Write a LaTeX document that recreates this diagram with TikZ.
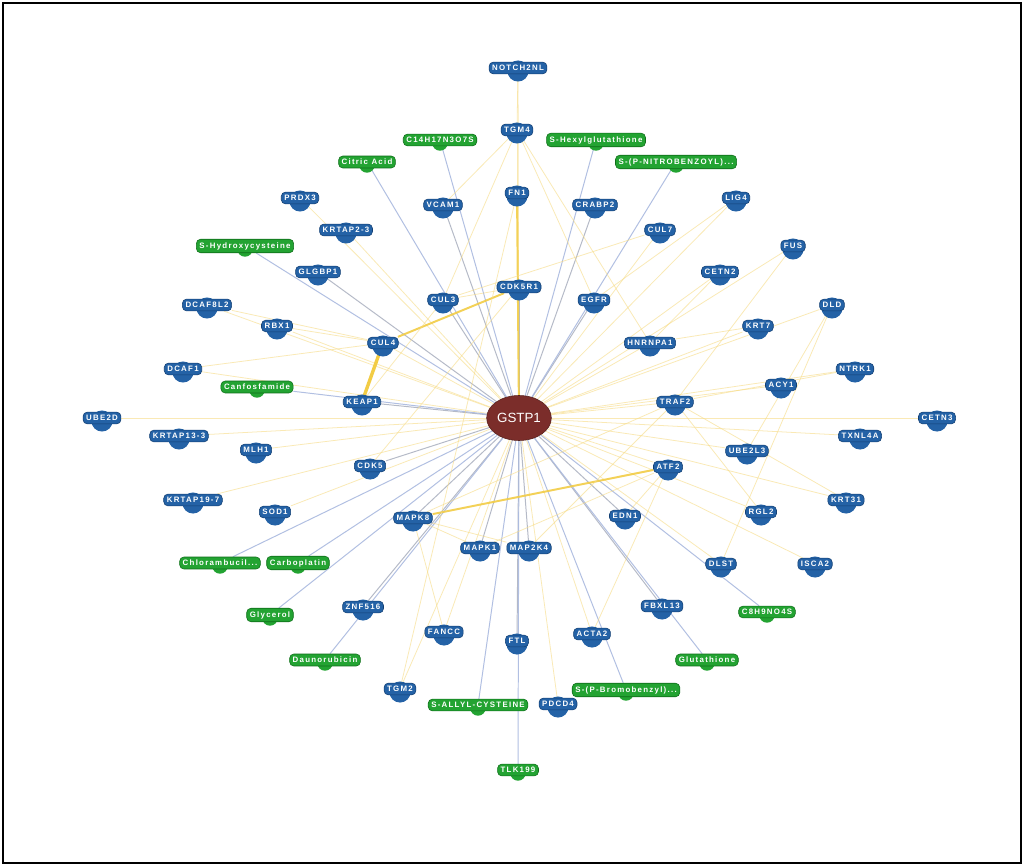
\documentclass[tikz,border=0pt]{standalone}
\usepackage{fontspec}
\setmainfont{Liberation Sans}
\newfontfamily\lblfont[LetterSpace=16]{Liberation Sans}
\usetikzlibrary{backgrounds,shapes.geometric}
\definecolor{gblue}{HTML}{2462A6}
\definecolor{gblueD}{HTML}{123F73}
\definecolor{ggreen}{HTML}{23A332}
\definecolor{ggreenD}{HTML}{0F6E19}
\definecolor{hubred}{HTML}{7B2D2A}
\definecolor{ey}{HTML}{F7DB84}
\definecolor{eyt}{HTML}{F2CC45}
\definecolor{eb}{HTML}{A9B9DF}
\definecolor{eg}{HTML}{AEB3C2}
\tikzset{
 gene/.style={rounded corners=3pt, fill=gblue, draw=gblueD, line width=0.4pt, text=white,
   font=\lblfont\bfseries\fontsize{5.6}{6.5}\selectfont, inner xsep=2.2pt, inner ysep=2.2pt},
 genebg/.style={circle, fill=gblue, minimum size=15pt, inner sep=0pt},
 drug/.style={gene, fill=ggreen, draw=ggreenD},
 drugbg/.style={circle, fill=ggreen, minimum size=11pt, inner sep=0pt},
 hub/.style={ellipse, fill=hubred, draw=hubred!70!black, minimum width=46pt, minimum height=32pt,
   text=white, font=\fontsize{9.5}{10}\selectfont, inner sep=0pt},
 ye/.style={draw=ey, line width=0.55pt, opacity=0.6},
 yt/.style={draw=eyt, line width=2.4pt},
 ym/.style={draw=eyt, line width=1.4pt, opacity=0.9},
 be/.style={draw=eb, line width=0.7pt, opacity=0.9},
 ge/.style={draw=eg, line width=0.7pt, opacity=0.9},
}
\newcommand{\gnode}[4]{\node[genebg] (#1-bg) at (#2,#3+3) {}; \node[gene] (#1) at (#2,#3) {#4};}
\newcommand{\dnode}[4]{\node[drugbg] (#1-bg) at (#2,#3+3) {}; \node[drug] (#1) at (#2,#3) {#4};}
\begin{document}
\begin{tikzpicture}[x=0.025cm,y=-0.025cm]
\useasboundingbox (0,0) rectangle (1024,866);

\node[hub] (gstp1) at (519,418) {GSTP1};

% genes
\gnode{notch}{518}{68}{NOTCH2NL}
\gnode{tgm4}{517}{130}{TGM4}
\gnode{fn1}{517}{193}{FN1}
\gnode{vcam}{443}{205}{VCAM1}
\gnode{crabp}{595}{205}{CRABP2}
\gnode{prdx}{300}{198}{PRDX3}
\gnode{krtap23}{346}{230}{KRTAP2-3}
\gnode{cul7}{660}{230}{CUL7}
\gnode{lig}{736}{198}{LIG4}
\gnode{fus}{793}{246}{FUS}
\gnode{cetn2}{720}{272}{CETN2}
\gnode{dld}{832}{305}{DLD}
\gnode{glgbp}{318}{272}{GLGBP1}
\gnode{cul3}{443}{300}{CUL3}
\gnode{cdkr}{519}{287}{CDK5R1}
\gnode{egfr}{594}{300}{EGFR}
\gnode{hnrnp}{650}{343}{HNRNPA1}
\gnode{krt7}{758}{326}{KRT7}
\gnode{cul4}{383}{343}{CUL4}
\gnode{keap}{362}{402}{KEAP1}
\gnode{dcafl}{207}{305}{DCAF8L2}
\gnode{rbx}{277}{326}{RBX1}
\gnode{dcaf}{183}{369}{DCAF1}
\gnode{ube2d}{102}{418}{UBE2D}
\gnode{ntrk}{855}{369}{NTRK1}
\gnode{acy}{781}{385}{ACY1}
\gnode{traf}{675}{402}{TRAF2}
\gnode{cetn3}{937}{418}{CETN3}
\gnode{krtap13}{179}{436}{KRTAP13-3}
\gnode{mlh}{256}{450}{MLH1}
\gnode{txnl}{860}{436}{TXNL4A}
\gnode{ube2l}{747}{451}{UBE2L3}
\gnode{cdk5}{370}{466}{CDK5}
\gnode{atf}{668}{467}{ATF2}
\gnode{krtap19}{193}{500}{KRTAP19-7}
\gnode{sod}{275}{512}{SOD1}
\gnode{krt31}{846}{500}{KRT31}
\gnode{mapk8}{413}{518}{MAPK8}
\gnode{edn}{625}{516}{EDN1}
\gnode{rgl}{761}{512}{RGL2}
\gnode{mapk1}{480}{548}{MAPK1}
\gnode{map2k}{529}{548}{MAP2K4}
\gnode{dlst}{721}{564}{DLST}
\gnode{isca}{815}{564}{ISCA2}
\gnode{znf}{363}{607}{ZNF516}
\gnode{fbxl}{662}{606}{FBXL13}
\gnode{fancc}{444}{632}{FANCC}
\gnode{ftl}{517}{641}{FTL}
\gnode{acta}{592}{634}{ACTA2}
\gnode{tgm2}{400}{689}{TGM2}
\gnode{pdcd}{558}{704}{PDCD4}

% drugs
\dnode{chx1}{440}{140}{C14H17N3O7S}
\dnode{citric}{367}{162}{Citric Acid}
\dnode{shexyl}{596}{140}{S-Hexylglutathione}
\dnode{snitro}{676}{162}{S-(P-NITROBENZOYL)...}
\dnode{shydr}{245}{246}{S-Hydroxycysteine}
\dnode{canfos}{257}{387}{Canfosfamide}
\dnode{chlor}{220}{563}{Chlorambucil...}
\dnode{carbo}{298}{563}{Carboplatin}
\dnode{glyc}{270}{615}{Glycerol}
\dnode{dauno}{325}{660}{Daunorubicin}
\dnode{sallyl}{478}{705}{S-ALLYL-CYSTEINE}
\dnode{sbromo}{626}{690}{S-(P-Bromobenzyl)...}
\dnode{gluta}{707}{660}{Glutathione}
\dnode{chx2}{767}{612}{C8H9NO4S}
\dnode{tlk}{518}{770}{TLK199}

\begin{scope}[on background layer]
\fill[white] (0,0) rectangle (1024,866);
\draw[line width=1.5pt] (3,3) rectangle (1021,863);
% yellow gene edges to hub
\foreach \n in {notch,prdx,krtap23,cul7,lig,fus,cetn2,dld,dcafl,rbx,dcaf,ube2d,ntrk,acy,cetn3,krtap13,mlh,txnl,ube2l,krtap19,sod,krt31,rgl,dlst,isca,fancc,acta,tgm2,pdcd,krt7,traf,atf,hnrnp,cul4}
  \draw[ye] (gstp1) -- (\n);
% grey gene edges to hub
\foreach \n in {vcam,crabp,glgbp,cul3,cdkr,egfr,keap,cdk5,mapk8,mapk1,map2k,edn,znf,fbxl,ftl}
  \draw[ge] (gstp1) -- (\n);
% drug edges to hub
\foreach \n in {chx1,citric,shexyl,snitro,shydr,canfos,chlor,carbo,glyc,dauno,sallyl,sbromo,gluta,chx2,tlk}
  \draw[be] (gstp1) -- (\n);
% strong yellow edges
\draw[ym] (gstp1) -- (fn1);
\draw[ye] (fn1) -- (tgm4);
\draw[ye] (tgm4) -- (notch);
\draw[yt] (cul4) -- (keap);
\draw[ym] (cul4) -- (cdkr);
\draw[ym] (mapk8) -- (atf);
\draw[ye] (mapk8) -- (map2k);
\draw[ye] (mapk8) -- (mapk1);
% faint yellow gene-gene edges
\draw[ye] (tgm4) -- (cul3);
\draw[ye] (tgm4) -- (egfr);
\draw[ye] (tgm4) -- (vcam);
\draw[ye] (tgm4) -- (hnrnp);
\draw[ye] (dld) -- (dlst);
\draw[ye] (dld) -- (ube2l);
\draw[ye] (traf) -- (map2k);
\draw[ye] (traf) -- (mapk8);
\draw[ye] (atf) -- (mapk1);
\draw[ye] (atf) -- (edn);
\draw[ye] (cetn2) -- (hnrnp);
\draw[ye] (lig) -- (egfr);
\draw[ye] (fus) -- (traf);
\draw[ye] (krt7) -- (hnrnp);
\draw[ye] (cul3) -- (keap);
\draw[ye] (cul3) -- (cdkr);
\draw[ye] (rbx) -- (cul4);
\draw[ye] (dcaf) -- (cul4);
\draw[ye] (dcafl) -- (cul4);
\draw[ye] (cul7) -- (cul3);
\draw[ye] (rgl) -- (traf);
\draw[ye] (krt31) -- (traf);
\draw[ye] (tgm2) -- (fn1);
\draw[ye] (fancc) -- (mapk8);
\draw[ye] (acta) -- (atf);
\draw[ye] (cdk5) -- (cdkr);
\draw[ye] (ntrk) -- (traf);
\end{scope}
\end{tikzpicture}
\end{document}
